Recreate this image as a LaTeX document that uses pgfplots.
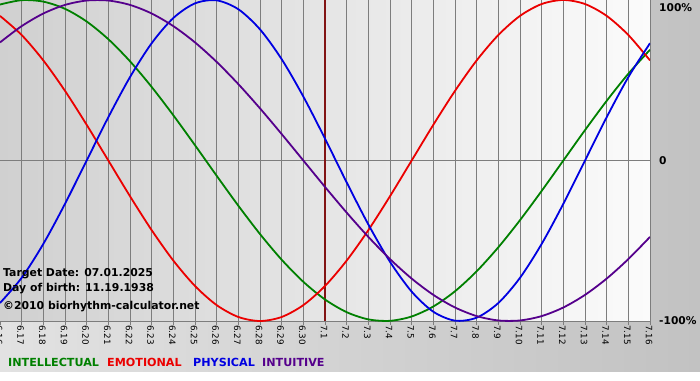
\documentclass[border=0pt]{standalone}
\usepackage{pgfplots}
\usepackage{pgfplotstable}
\pgfplotsset{compat=1.18}
\usepackage{fontspec}
\setmainfont{DejaVu Sans}
\definecolor{cint}{RGB}{0,128,0}
\definecolor{cemo}{RGB}{235,0,0}
\definecolor{cphy}{RGB}{0,0,225}
\definecolor{cintu}{RGB}{85,0,140}
\definecolor{cmark}{RGB}{130,20,20}
\definecolor{gridc}{RGB}{125,125,125}
\definecolor{bgl}{RGB}{226,226,226}
\definecolor{bgr}{RGB}{194,194,194}
\definecolor{pl}{RGB}{208,208,208}
\definecolor{pr}{RGB}{251,251,251}

\pgfplotstableread{
day int emo phy intu
0 0.9718 0.9010 -0.8879 0.7357
1 0.9989 0.7818 -0.7308 0.8372
2 0.9898 0.6235 -0.5196 0.9158
3 0.9450 0.4339 -0.2698 0.9694
4 0.8660 0.2225 0 0.9966
5 0.7557 0 0.2698 0.9966
6 0.6182 -0.2225 0.5196 0.9694
7 0.4582 -0.4339 0.7308 0.9158
8 0.2817 -0.6235 0.8879 0.8372
9 0.0951 -0.7818 0.9791 0.7357
10 -0.0951 -0.9010 0.9977 0.6142
11 -0.2817 -0.9749 0.9423 0.4759
12 -0.4582 -1 0.8170 0.3247
13 -0.6182 -0.9749 0.6311 0.1646
14 -0.7557 -0.9010 0.3984 0
15 -0.8660 -0.7818 0.1362 -0.1646
16 -0.9450 -0.6235 -0.1362 -0.3247
17 -0.9898 -0.4339 -0.3984 -0.4759
18 -0.9989 -0.2225 -0.6311 -0.6142
19 -0.9718 0 -0.8170 -0.7357
20 -0.9096 0.2225 -0.9423 -0.8372
21 -0.8146 0.4339 -0.9977 -0.9158
22 -0.6901 0.6235 -0.9791 -0.9694
23 -0.5406 0.7818 -0.8879 -0.9966
24 -0.3717 0.9010 -0.7308 -0.9966
25 -0.1893 0.9749 -0.5196 -0.9694
26 0 1 -0.2698 -0.9158
27 0.1893 0.9749 0 -0.8372
28 0.3717 0.9010 0.2698 -0.7357
29 0.5406 0.7818 0.5196 -0.6142
30 0.6901 0.6235 0.7308 -0.4759
}\bio

\begin{document}
\begin{tikzpicture}[x=1bp,y=1bp]
\useasboundingbox (0,0) rectangle (700,380);
\shade[left color=bgl, right color=bgr] (0,8) rectangle (700,380);
\fill[white] (0,0) rectangle (700,8);
\shade[left color=pl, right color=pr] (0,59) rectangle (650,380);
\begin{axis}[
  at={(0bp,59bp)}, anchor=south west,
  scale only axis, width=650bp, height=321bp,
  xmin=0, xmax=30, ymin=-1, ymax=1,
  axis line style={draw=none},
  xtick={0,...,30},
  xticklabels={6.16,6.17,6.18,6.19,6.20,6.21,6.22,6.23,6.24,6.25,6.26,6.27,6.28,6.29,6.30,7.1,7.2,7.3,7.4,7.5,7.6,7.7,7.8,7.9,7.10,7.11,7.12,7.13,7.14,7.15,7.16},
  xtick pos=bottom, ytick pos=right,
  tick align=outside,
  major tick length=4bp,
  xtick style={gridc, line width=0.9bp},
  ytick style={draw=none},
  xmajorgrids, ymajorgrids,
  major grid style={gridc, line width=1bp},
  ytick={-1,0},
  yticklabels={-100\%,0},
  extra y ticks={0.955},
  extra y tick labels={100\%},
  extra y tick style={grid=none},
  yticklabel pos=right,
  xticklabel style={rotate=-90, anchor=west, inner sep=0pt, yshift=-1bp, font=\fontsize{8.8}{10}\selectfont},
  yticklabel style={anchor=west, inner sep=0pt, xshift=5bp, font=\bfseries\fontsize{10.7}{13}\selectfont},
  clip=true,
]
\addplot[cmark, line width=2bp] coordinates {(15,-1) (15,1)};
\addplot[cint, line width=1.8bp, smooth] table[x=day, y=int] {\bio};
\addplot[cemo, line width=1.8bp, smooth] table[x=day, y=emo] {\bio};
\addplot[cphy, line width=1.8bp, smooth] table[x=day, y=phy] {\bio};
\addplot[cintu, line width=1.8bp, smooth] table[x=day, y=intu] {\bio};
\end{axis}
\begin{scope}[every node/.style={anchor=base west, inner sep=0pt, font=\bfseries\fontsize{10.9}{12}\selectfont}]
\node at (3,104) {Target Date: 07.01.2025};
\node at (3,89) {Day of birth: 11.19.1938};
\node at (3,71) {©2010 biorhythm-calculator.net};
\end{scope}
\begin{scope}[every node/.style={anchor=base west, inner sep=0pt, font=\bfseries\fontsize{11.2}{13}\selectfont}]
\node[text=cint] at (8,14) {INTELLECTUAL};
\node[text=cemo] at (107,14) {EMOTIONAL};
\node[text=cphy] at (193,14) {PHYSICAL};
\node[text=cintu] at (262,14) {INTUITIVE};
\end{scope}
\end{tikzpicture}
\end{document}
